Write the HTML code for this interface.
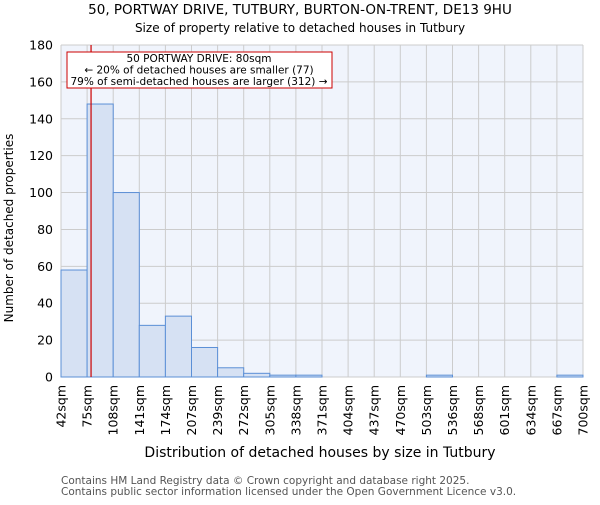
<!DOCTYPE html>
<html><head><meta charset="utf-8"><style>
body{margin:0;background:#fff;}
svg{font-family:"DejaVu Sans","Liberation Sans",sans-serif;}
</style></head><body>
<svg id="chart" width="600" height="500" xmlns="http://www.w3.org/2000/svg">
<text x="300" y="14" text-anchor="middle" font-size="13.5">50, PORTWAY DRIVE, TUTBURY, BURTON-ON-TRENT, DE13 9HU</text>
<text x="300" y="32" text-anchor="middle" font-size="12">Size of property relative to detached houses in Tutbury</text>
<rect x="61" y="45" width="522" height="332" fill="#f0f4fc"/>
<g id="grid"></g>
<g id="bars"></g>
<g id="xticks"></g>
<g id="yticks"></g>
<line id="marker" y1="45" y2="377" stroke="#cc0000" stroke-width="1.2"/>
<g>
<rect x="67" y="52" width="265" height="36" fill="#fff" stroke="#cc0000" stroke-width="1"/>
<text x="199" y="62" text-anchor="middle" font-size="10.5">50 PORTWAY DRIVE: 80sqm</text>
<text x="199" y="73.5" text-anchor="middle" font-size="10.5">← 20% of detached houses are smaller (77)</text>
<text x="199" y="85" text-anchor="middle" font-size="10.5">79% of semi-detached houses are larger (312) →</text>
</g>
<text x="320" y="457" text-anchor="middle" font-size="14">Distribution of detached houses by size in Tutbury</text>
<text transform="translate(13,228) rotate(-90)" text-anchor="middle" font-size="12">Number of detached properties</text>
<text x="61" y="484" font-size="10.5" fill="#555">Contains HM Land Registry data © Crown copyright and database right 2025.</text>
<text x="61" y="495" font-size="10.5" fill="#555">Contains public sector information licensed under the Open Government Licence v3.0.</text>
</svg>
<script>
const binLabels=["42sqm","75sqm","108sqm","141sqm","174sqm","207sqm","239sqm","272sqm","305sqm","338sqm","371sqm","404sqm","437sqm","470sqm","503sqm","536sqm","568sqm","601sqm","634sqm","667sqm","700sqm"];
const counts=[58,148,100,28,33,16,5,2,1,1,0,0,0,0,1,0,0,0,0,1];
const yTicks=[0,20,40,60,80,100,120,140,160,180];
const markerIndex=1+(80-75)/33;
const X0=61,X1=583,Y0=377,Y1=45,YMAX=180;
const bw=(X1-X0)/counts.length;
const x=i=>X0+i*bw;
const y=v=>Y0-(v/YMAX)*(Y0-Y1);
const NS="http://www.w3.org/2000/svg";
function mk(t,a,p){const e=document.createElementNS(NS,t);for(const k in a)e.setAttribute(k,a[k]);p.appendChild(e);return e;}
const grid=document.getElementById('grid'),bars=document.getElementById('bars'),xt=document.getElementById('xticks'),yt=document.getElementById('yticks');
yTicks.forEach(v=>{
 const l=mk('line',{x1:X0,x2:X1,y1:y(v),y2:y(v),stroke:'#cccccc','stroke-width':1},grid);
 
 
 const t=mk('text',{x:X0-8,y:y(v)+4.5,'text-anchor':'end','font-size':12.5},yt);
 t.textContent=v;
 
 
});
binLabels.forEach((s,i)=>{
 const l=mk('line',{x1:x(i),x2:x(i),y1:Y1,y2:Y0,stroke:'#cccccc','stroke-width':1},grid);
 
 
 const t=mk('text',{transform:`translate(${x(i)+4.5},${Y0+8}) rotate(-90)`,'text-anchor':'end','font-size':12.5},xt);
 t.textContent=s;
 
 
});
counts.forEach((c,i)=>{
 const r=mk('rect',{x:x(i),y:y(c),width:bw,height:Y0-y(c),fill:'#d6e1f3',stroke:c>0?'#5b8fd6':'none','stroke-width':1},bars);
 
 
});
const m=document.getElementById('marker');
m.setAttribute('x1',x(markerIndex));m.setAttribute('x2',x(markerIndex));
</script>
</body></html>
